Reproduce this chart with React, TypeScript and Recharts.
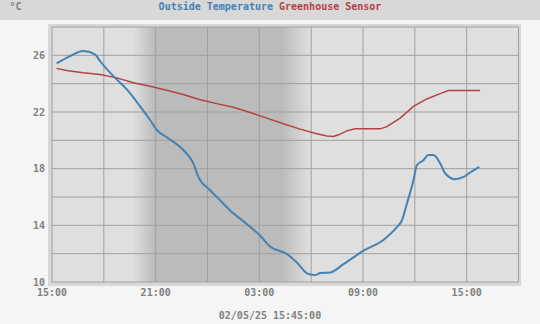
import { LineChart, Line, XAxis, YAxis, CartesianGrid } from "recharts";

// hours since 15:00 on the first day
const outsideTimes = [
  0.27, 1.04, 1.81, 2.49, 2.78, 3.55, 4.33, 5.1, 5.67, 6.06, 6.73, 7.6, 8.18,
  8.47, 9.15, 9.73, 10.31, 11.27, 12.04, 12.62, 13.59, 14.17, 14.84, 15.23,
  15.52, 16.1, 16.87, 18.03, 19.18, 19.96, 20.25, 20.54, 20.92, 21.12, 21.5,
  21.79, 22.08, 22.47, 22.76, 23.34, 23.82, 24.2, 24.73,
];
const outsideTemps = [
  25.43, 25.95, 26.3, 26.07, 25.6, 24.53, 23.6, 22.4, 21.45, 20.74, 20.15,
  19.32, 18.37, 17.42, 16.48, 15.77, 15.05, 14.1, 13.28, 12.5, 11.98, 11.38,
  10.56, 10.49, 10.63, 10.67, 11.26, 12.21, 12.97, 13.87, 14.34, 15.53, 17.19,
  18.25, 18.6, 18.96, 18.96, 18.37, 17.66, 17.26, 17.42, 17.73, 18.13,
];

const greenhouseTimes = [
  0.27, 0.85, 1.81, 2.78, 3.75, 4.71, 5.67, 6.64, 7.6, 8.57, 9.54, 10.5, 11.47,
  12.43, 13.39, 14.36, 15.33, 15.91, 16.29, 16.58, 17.06, 17.54, 18.99, 19.38,
  20.15, 20.92, 21.69, 22.47, 22.95, 24.78,
];
const greenhouseTemps = [
  25.08, 24.93, 24.77, 24.65, 24.41, 24.06, 23.82, 23.53, 23.23, 22.87, 22.59,
  22.33, 21.97, 21.57, 21.17, 20.79, 20.46, 20.31, 20.27, 20.39, 20.67, 20.81,
  20.81, 20.97, 21.57, 22.4, 22.92, 23.3, 23.51, 23.51,
];

const xTicks = [0, 3, 6, 9, 12, 15, 18, 21, 24, 27];
const xTickLabels: Record<number, string> = {
  0: "15:00",
  6: "21:00",
  12: "03:00",
  18: "09:00",
  24: "15:00",
};
const yTicks = [10, 12, 14, 16, 18, 20, 22, 24, 26, 28];
const yLabelled = [10, 14, 18, 22, 26];

// day / night shading (hours since 15:00)
const duskStart = 4.69;
const nightStart = 5.95;
const nightEnd = 13.3;
const dawnEnd = 14.94;
const xMax = 27;

const outsideData = outsideTimes.map((t, i) => ({ t, v: outsideTemps[i] }));
const greenhouseData = greenhouseTimes.map((t, i) => ({
  t,
  v: greenhouseTemps[i],
}));

const FONT = "'DejaVu Sans Mono', monospace";
const BLUE = "#4282b4";
const RED = "#b44242";
const LABEL = "#808080";
const tickStyle = {
  fill: LABEL,
  fontSize: 10,
  fontFamily: FONT,
  fontWeight: "bold",
};

export default function App() {
  return (
    <div
      style={{
        position: "absolute",
        left: 0,
        top: 0,
        width: 540,
        height: 324,
        background: "#f5f5f5",
        overflow: "hidden",
      }}
    >
      <svg width={0} height={0} style={{ position: "absolute" }}>
        <defs>
          <linearGradient id="daynight" x1="0" y1="0" x2="1" y2="0">
            <stop offset={duskStart / xMax} stopColor="#dfdfdf" />
            <stop offset={nightStart / xMax} stopColor="#bbbbbb" />
            <stop offset={nightEnd / xMax} stopColor="#bbbbbb" />
            <stop offset={dawnEnd / xMax} stopColor="#dfdfdf" />
          </linearGradient>
        </defs>
      </svg>
      <div
        style={{
          position: "absolute",
          left: 0,
          top: 0,
          width: 540,
          height: 20,
          background: "#d8d8d8",
        }}
      />
      <div
        style={{
          position: "absolute",
          left: 48,
          top: 24,
          width: 473,
          height: 262,
          background: "#d8d8d8",
        }}
      />
      <div style={{ position: "absolute", left: 0, top: 0 }}>
        <LineChart
          width={540}
          height={324}
          margin={{ top: 27, right: 21.5, left: 0, bottom: 2 }}
        >
          <CartesianGrid
            stroke="#a0a0a0"
            fill="url(#daynight)"
            fillOpacity={1}
            horizontalValues={yTicks}
            verticalValues={xTicks}
          />
          <XAxis
            dataKey="t"
            type="number"
            domain={[0, xMax]}
            ticks={xTicks}
            tickFormatter={(v: number) => xTickLabels[v] ?? ""}
            axisLine={false}
            tickLine={false}
            tickSize={0}
            tickMargin={7}
            height={40}
            tick={tickStyle}
            interval={0}
          />
          <YAxis
            type="number"
            domain={[10, 28]}
            ticks={yTicks}
            tickFormatter={(v: number) => (yLabelled.includes(v) ? String(v) : "")}
            axisLine={false}
            tickLine={false}
            tickSize={0}
            tickMargin={7}
            width={52}
            tick={tickStyle}
            interval={0}
          />
          <Line
            data={greenhouseData}
            dataKey="v"
            type="linear"
            stroke={RED}
            strokeWidth={1.5}
            dot={false}
            isAnimationActive={false}
          />
          <Line
            data={outsideData}
            dataKey="v"
            type="monotone"
            stroke={BLUE}
            strokeWidth={2}
            dot={false}
            isAnimationActive={false}
          />
        </LineChart>
      </div>
      <svg
        width={540}
        height={324}
        style={{ position: "absolute", left: 0, top: 0, pointerEvents: "none" }}
      >
        <text
          x={9.5}
          y={10}
          fill={LABEL}
          fontSize={10}
          fontFamily={FONT}
          fontWeight="bold"
        >
          °C
        </text>
        <text
          x={270}
          y={10}
          textAnchor="middle"
          fontSize={10}
          fontFamily={FONT}
          fontWeight="bold"
        >
          <tspan fill={BLUE}>Outside Temperature</tspan>
          <tspan fill={RED}> Greenhouse Sensor</tspan>
        </text>
        <text
          x={270}
          y={319}
          textAnchor="middle"
          fill={LABEL}
          fontSize={10}
          fontFamily={FONT}
          fontWeight="bold"
        >
          02/05/25 15:45:00
        </text>
      </svg>
    </div>
  );
}
